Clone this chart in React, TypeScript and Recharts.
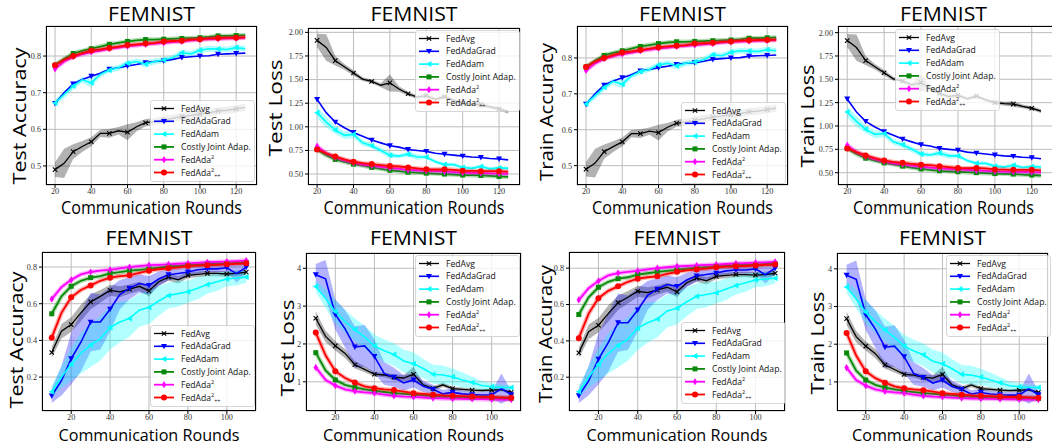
import React from "react";
import { ComposedChart, Line, Area, XAxis, YAxis, CartesianGrid } from "recharts";

// rounds on the x axis
const TOP_ROUNDS = [20, 25, 30, 35, 40, 45, 50, 55, 60, 65, 70, 75, 80, 85, 90, 95, 100, 105, 110, 115, 120, 125];
const BOTTOM_ROUNDS = [10, 15, 20, 25, 30, 35, 40, 45, 50, 55, 60, 65, 70, 75, 80, 85, 90, 95, 100, 105, 110];

const TOP_X_TICKS = [20, 40, 60, 80, 100, 120];
const BOTTOM_X_TICKS = [20, 40, 60, 80, 100];
const TOP_ACC_TICKS = [0.5, 0.6, 0.7, 0.8];
const TOP_LOSS_TICKS = [0.5, 0.75, 1, 1.25, 1.5, 1.75, 2];
const BOTTOM_ACC_TICKS = [0.2, 0.4, 0.6, 0.8];
const BOTTOM_LOSS_TICKS = [1, 2, 3, 4];

// top row, accuracy
const TOP_ACC_AVG = [0.49, 0.507, 0.539, 0.553, 0.566, 0.589, 0.589, 0.596, 0.592, 0.607, 0.618, 0.621, 0.626, 0.63, 0.635, 0.638, 0.642, 0.645, 0.65, 0.652, 0.656, 0.66];
const TOP_ACC_AVG_SD = [0.02, 0.04, 0.02, 0.015, 0.012, 0.01, 0.012, 0.01, 0.022, 0.012, 0.01, 0.01, 0.01, 0.01, 0.01, 0.01, 0.01, 0.01, 0.01, 0.01, 0.01, 0.01];
const TOP_ACC_GRAD = [0.671, 0.7, 0.724, 0.736, 0.745, 0.753, 0.764, 0.768, 0.773, 0.777, 0.782, 0.785, 0.787, 0.791, 0.796, 0.798, 0.8, 0.801, 0.805, 0.806, 0.807, 0.808];
const TOP_ACC_ADAM = [0.672, 0.695, 0.718, 0.735, 0.727, 0.75, 0.762, 0.768, 0.78, 0.785, 0.778, 0.785, 0.789, 0.795, 0.809, 0.806, 0.816, 0.82, 0.819, 0.818, 0.823, 0.82];
const TOP_ACC_ADAM_SD = [0.008, 0.01, 0.01, 0.008, 0.012, 0.008, 0.008, 0.008, 0.008, 0.008, 0.01, 0.008, 0.008, 0.008, 0.008, 0.008, 0.008, 0.008, 0.008, 0.008, 0.008, 0.008];
const TOP_ACC_COSTLY = [0.775, 0.792, 0.807, 0.814, 0.82, 0.826, 0.832, 0.836, 0.84, 0.843, 0.845, 0.845, 0.846, 0.847, 0.848, 0.849, 0.85, 0.852, 0.855, 0.855, 0.856, 0.857];
const TOP_ACC_ADA2 = [0.765, 0.785, 0.798, 0.805, 0.811, 0.815, 0.82, 0.823, 0.827, 0.829, 0.832, 0.834, 0.836, 0.838, 0.84, 0.843, 0.845, 0.846, 0.847, 0.848, 0.849, 0.85];
const TOP_ACC_ADA2PP = [0.775, 0.79, 0.8, 0.808, 0.815, 0.818, 0.822, 0.826, 0.83, 0.832, 0.834, 0.836, 0.84, 0.841, 0.842, 0.845, 0.846, 0.848, 0.849, 0.85, 0.85, 0.851];

// top row, loss
const TOP_LOSS_AVG = [1.915, 1.84, 1.7, 1.635, 1.57, 1.505, 1.48, 1.44, 1.465, 1.4, 1.35, 1.315, 1.33, 1.29, 1.32, 1.28, 1.25, 1.24, 1.235, 1.21, 1.19, 1.16];
const TOP_LOSS_AVG_SD = [0.07, 0.14, 0.05, 0.03, 0.03, 0.02, 0.02, 0.02, 0.09, 0.03, 0.02, 0.02, 0.02, 0.02, 0.02, 0.02, 0.02, 0.02, 0.03, 0.02, 0.02, 0.02];
const TOP_LOSS_GRAD = [1.29, 1.15, 1.05, 0.99, 0.94, 0.9, 0.86, 0.83, 0.8, 0.785, 0.76, 0.75, 0.74, 0.72, 0.71, 0.7, 0.69, 0.68, 0.675, 0.665, 0.66, 0.65];
const TOP_LOSS_ADAM = [1.15, 1.05, 0.965, 0.91, 0.92, 0.83, 0.8, 0.75, 0.7, 0.69, 0.71, 0.68, 0.68, 0.63, 0.6, 0.6, 0.57, 0.56, 0.58, 0.555, 0.565, 0.56];
const TOP_LOSS_ADAM_SD = [0.06, 0.06, 0.04, 0.04, 0.04, 0.03, 0.03, 0.03, 0.03, 0.02, 0.03, 0.03, 0.02, 0.02, 0.02, 0.02, 0.02, 0.02, 0.02, 0.02, 0.02, 0.02];
const TOP_LOSS_COSTLY = [0.76, 0.7, 0.655, 0.63, 0.605, 0.59, 0.57, 0.555, 0.54, 0.53, 0.52, 0.515, 0.51, 0.505, 0.5, 0.495, 0.49, 0.488, 0.485, 0.48, 0.475, 0.47];
const TOP_LOSS_ADA2 = [0.795, 0.72, 0.675, 0.645, 0.62, 0.6, 0.59, 0.575, 0.565, 0.555, 0.545, 0.54, 0.535, 0.53, 0.525, 0.52, 0.515, 0.512, 0.51, 0.508, 0.505, 0.503];
const TOP_LOSS_ADA2PP = [0.76, 0.72, 0.685, 0.655, 0.63, 0.615, 0.605, 0.595, 0.585, 0.58, 0.57, 0.56, 0.55, 0.548, 0.55, 0.545, 0.535, 0.533, 0.53, 0.53, 0.53, 0.525];

// bottom row, accuracy
const BOT_ACC_AVG = [0.334, 0.45, 0.486, 0.55, 0.61, 0.64, 0.673, 0.665, 0.68, 0.695, 0.67, 0.72, 0.745, 0.73, 0.755, 0.76, 0.765, 0.765, 0.762, 0.765, 0.772];
const BOT_ACC_AVG_SD = [0.03, 0.04, 0.04, 0.045, 0.04, 0.035, 0.03, 0.03, 0.025, 0.025, 0.03, 0.02, 0.02, 0.02, 0.015, 0.015, 0.015, 0.015, 0.015, 0.015, 0.015];
const BOT_ACC_GRAD = [0.098, 0.18, 0.3, 0.39, 0.5, 0.5, 0.57, 0.65, 0.685, 0.71, 0.7, 0.735, 0.758, 0.765, 0.773, 0.785, 0.79, 0.79, 0.796, 0.764, 0.8];
const BOT_ACC_GRAD_SD = [0.04, 0.08, 0.14, 0.16, 0.16, 0.15, 0.12, 0.08, 0.06, 0.05, 0.05, 0.04, 0.03, 0.03, 0.025, 0.02, 0.02, 0.02, 0.02, 0.05, 0.03];
const BOT_ACC_ADAM = [0.12, 0.2, 0.27, 0.33, 0.375, 0.41, 0.47, 0.5, 0.52, 0.565, 0.58, 0.615, 0.645, 0.655, 0.665, 0.685, 0.705, 0.72, 0.735, 0.74, 0.745];
const BOT_ACC_ADAM_SD = [0.03, 0.06, 0.09, 0.11, 0.12, 0.12, 0.12, 0.11, 0.1, 0.09, 0.09, 0.08, 0.07, 0.07, 0.06, 0.06, 0.05, 0.05, 0.04, 0.04, 0.03];
const BOT_ACC_COSTLY = [0.545, 0.64, 0.695, 0.725, 0.742, 0.75, 0.765, 0.772, 0.78, 0.785, 0.79, 0.797, 0.803, 0.806, 0.81, 0.813, 0.816, 0.818, 0.82, 0.823, 0.825];
const BOT_ACC_ADA2 = [0.625, 0.69, 0.73, 0.76, 0.773, 0.78, 0.785, 0.793, 0.8, 0.805, 0.81, 0.812, 0.815, 0.818, 0.82, 0.823, 0.826, 0.828, 0.83, 0.832, 0.835];
const BOT_ACC_ADA2PP = [0.415, 0.55, 0.635, 0.675, 0.7, 0.725, 0.742, 0.75, 0.755, 0.768, 0.78, 0.788, 0.793, 0.798, 0.805, 0.808, 0.81, 0.812, 0.815, 0.818, 0.82];

// bottom row, loss
const BOT_LOSS_AVG = [2.68, 2.2, 1.95, 1.75, 1.45, 1.33, 1.2, 1.18, 1.12, 1.1, 1.2, 0.92, 0.82, 0.92, 0.82, 0.8, 0.78, 0.77, 0.78, 0.79, 0.72];
const BOT_LOSS_AVG_SD = [0.18, 0.15, 0.12, 0.12, 0.1, 0.08, 0.06, 0.06, 0.08, 0.08, 0.2, 0.06, 0.06, 0.06, 0.05, 0.05, 0.04, 0.04, 0.04, 0.04, 0.04];
const BOT_LOSS_GRAD = [3.83, 3.72, 2.78, 2.4, 1.92, 1.95, 1.67, 1.22, 1.12, 0.97, 1.05, 0.88, 0.8, 0.68, 0.72, 0.68, 0.66, 0.65, 0.65, 0.82, 0.66];
const BOT_LOSS_GRAD_SD = [0.28, 0.5, 0.4, 0.5, 0.55, 0.55, 0.45, 0.3, 0.25, 0.2, 0.2, 0.15, 0.12, 0.1, 0.1, 0.08, 0.08, 0.08, 0.1, 0.4, 0.1];
const BOT_LOSS_ADAM = [3.52, 3.2, 2.85, 2.6, 2.38, 2.18, 1.95, 1.82, 1.72, 1.55, 1.48, 1.35, 1.2, 1.18, 1.13, 1.05, 0.98, 0.9, 0.87, 0.85, 0.85];
const BOT_LOSS_ADAM_SD = [0.15, 0.25, 0.3, 0.3, 0.3, 0.3, 0.3, 0.3, 0.3, 0.3, 0.3, 0.25, 0.25, 0.25, 0.22, 0.2, 0.15, 0.12, 0.1, 0.08, 0.06];
const BOT_LOSS_COSTLY = [1.77, 1.3, 1.05, 0.92, 0.85, 0.8, 0.76, 0.73, 0.7, 0.68, 0.66, 0.64, 0.62, 0.61, 0.6, 0.59, 0.58, 0.575, 0.57, 0.565, 0.56];
const BOT_LOSS_ADA2 = [1.38, 1.05, 0.9, 0.8, 0.75, 0.72, 0.7, 0.66, 0.63, 0.61, 0.6, 0.585, 0.57, 0.56, 0.555, 0.55, 0.545, 0.54, 0.535, 0.53, 0.53];
const BOT_LOSS_ADA2PP = [2.3, 1.7, 1.28, 1.1, 0.98, 0.88, 0.83, 0.8, 0.78, 0.74, 0.7, 0.68, 0.66, 0.64, 0.63, 0.62, 0.61, 0.6, 0.6, 0.59, 0.58];

const SERIES = [
  { key: "avg", name: "FedAvg", color: "#000000", marker: "x", width: 1.3 },
  { key: "grad", name: "FedAdaGrad", color: "#0000ff", marker: "v", width: 1.6 },
  { key: "adam", name: "FedAdam", color: "#00ffff", marker: "<", width: 1.6 },
  { key: "costly", name: "Costly Joint Adap.", color: "#0a8a0a", marker: "s", width: 1.8, halo: true },
  { key: "ada2", name: "FedAda2", color: "#ff00ff", marker: "d", width: 1.8, halo: true },
  { key: "ada2pp", name: "FedAda2++", color: "#ff0000", marker: "o", width: 1.8, halo: true },
];

const SANS = "'Open Sans', 'Noto Sans', sans-serif";
const SERIF = "'Liberation Serif', 'DejaVu Serif', serif";

function buildRows(rounds: number[], vals: Record<string, number[]>, sd: Record<string, number[]>) {
  return rounds.map((x, i) => {
    const row: any = { x };
    for (const k in vals) row[k] = vals[k][i];
    for (const k in sd) row[k + "Band"] = [vals[k][i] - sd[k][i], vals[k][i] + sd[k][i]];
    return row;
  });
}

const topAccRows = buildRows(
  TOP_ROUNDS,
  { avg: TOP_ACC_AVG, grad: TOP_ACC_GRAD, adam: TOP_ACC_ADAM, costly: TOP_ACC_COSTLY, ada2: TOP_ACC_ADA2, ada2pp: TOP_ACC_ADA2PP },
  { avg: TOP_ACC_AVG_SD, adam: TOP_ACC_ADAM_SD }
);
const topLossRows = buildRows(
  TOP_ROUNDS,
  { avg: TOP_LOSS_AVG, grad: TOP_LOSS_GRAD, adam: TOP_LOSS_ADAM, costly: TOP_LOSS_COSTLY, ada2: TOP_LOSS_ADA2, ada2pp: TOP_LOSS_ADA2PP },
  { avg: TOP_LOSS_AVG_SD, adam: TOP_LOSS_ADAM_SD }
);
const botAccRows = buildRows(
  BOTTOM_ROUNDS,
  { avg: BOT_ACC_AVG, grad: BOT_ACC_GRAD, adam: BOT_ACC_ADAM, costly: BOT_ACC_COSTLY, ada2: BOT_ACC_ADA2, ada2pp: BOT_ACC_ADA2PP },
  { avg: BOT_ACC_AVG_SD, grad: BOT_ACC_GRAD_SD, adam: BOT_ACC_ADAM_SD }
);
const botLossRows = buildRows(
  BOTTOM_ROUNDS,
  { avg: BOT_LOSS_AVG, grad: BOT_LOSS_GRAD, adam: BOT_LOSS_ADAM, costly: BOT_LOSS_COSTLY, ada2: BOT_LOSS_ADA2, ada2pp: BOT_LOSS_ADA2PP },
  { avg: BOT_LOSS_AVG_SD, grad: BOT_LOSS_GRAD_SD, adam: BOT_LOSS_ADAM_SD }
);

const fmt1 = (v: number) => v.toFixed(1);
const fmt2 = (v: number) => v.toFixed(2);
const fmt0 = (v: number) => String(v);

// frame = [left, top, right, bottom] of the plot box in page pixels
// yl = [baseline x, centre y, length] of the rotated y label
const PANELS = [
  { frame: [46, 26, 257, 185], rows: topAccRows, yLabel: "Test Accuracy", yDomain: [0.448, 0.882], yTicks: TOP_ACC_TICKS, fmt: fmt1, top: true, legend: [150, 100], yl: [25.5, 116, 137] },
  { frame: [308, 28, 520, 185], rows: topLossRows, yLabel: "Test Loss", yDomain: [0.384, 2.046], yTicks: TOP_LOSS_TICKS, fmt: fmt2, top: true, legend: [415, 30], yl: [282, 108, 97] },
  { frame: [577, 26, 788, 185], rows: topAccRows, yLabel: "Train Accuracy", yDomain: [0.446, 0.889], yTicks: TOP_ACC_TICKS, fmt: fmt1, top: true, legend: [681, 102], yl: [552.5, 112, 138] },
  { frame: [838, 26, 1053, 185], rows: topLossRows, yLabel: "Train Loss", yDomain: [0.368, 2.071], yTicks: TOP_LOSS_TICKS, fmt: fmt2, top: true, legend: [895, 29], yl: [814, 116, 103] },
  { frame: [42, 252, 256, 411], rows: botAccRows, yLabel: "Test Accuracy", yDomain: [0.015, 0.882], yTicks: BOTTOM_ACC_TICKS, fmt: fmt1, top: false, legend: [150, 325], yl: [23, 340, 137] },
  { frame: [306, 253, 521, 411], rows: botLossRows, yLabel: "Test Loss", yDomain: [0.228, 4.404], yTicks: BOTTOM_LOSS_TICKS, fmt: fmt0, top: false, legend: [415, 255], yl: [293.5, 348, 97] },
  { frame: [569, 252, 785, 411], rows: botAccRows, yLabel: "Train Accuracy", yDomain: [0.014, 0.889], yTicks: BOTTOM_ACC_TICKS, fmt: fmt1, top: false, legend: [681, 322], yl: [552, 334, 138] },
  { frame: [837, 253, 1048, 411], rows: botLossRows, yLabel: "Train Loss", yDomain: [0.228, 4.42], yTicks: BOTTOM_LOSS_TICKS, fmt: fmt0, top: false, legend: [946, 255], yl: [824, 343, 103] },
];

function markerShape(kind: string, cx: number, cy: number, color: string, key?: string) {
  switch (kind) {
    case "x":
      return <path key={key} d={`M${cx - 2.2},${cy - 2.2}L${cx + 2.2},${cy + 2.2}M${cx - 2.2},${cy + 2.2}L${cx + 2.2},${cy - 2.2}`} stroke={color} strokeWidth={1.1} fill="none" />;
    case "v":
      return <polygon key={key} points={`${cx - 3},${cy - 2.4} ${cx + 3},${cy - 2.4} ${cx},${cy + 3}`} fill={color} />;
    case "<":
      return <polygon key={key} points={`${cx + 2.4},${cy - 3} ${cx + 2.4},${cy + 3} ${cx - 3},${cy}`} fill={color} />;
    case "s":
      return <rect key={key} x={cx - 2.5} y={cy - 2.5} width={5} height={5} fill={color} />;
    case "d":
      return <polygon key={key} points={`${cx},${cy - 3.6} ${cx + 2.2},${cy} ${cx},${cy + 3.6} ${cx - 2.2},${cy}`} fill={color} />;
    default:
      return <circle key={key} cx={cx} cy={cy} r={3} fill={color} />;
  }
}

function Panel({ p }: { p: any }) {
  const [L, T, R, B] = p.frame;
  const padTop = 6;
  const padRight = 6;
  const yW = 40;
  const xH = 22;
  const width = R - L + yW + padRight;
  const height = B - T + padTop + xH;
  const xDomain = p.top ? [15, 131.5] : [5, 115];
  const xTicks = p.top ? TOP_X_TICKS : BOTTOM_X_TICKS;
  const tickStyle = { fontSize: 8.2, fill: "#333", fontFamily: SERIF };

  const children: any[] = [];
  SERIES.forEach((s) => {
    if (p.rows[0][s.key + "Band"]) {
      children.push(
        <Area key={s.key + "-band"} type="linear" dataKey={s.key + "Band"} stroke="none" fill={s.color} fillOpacity={0.3} isAnimationActive={false} activeDot={false} />
      );
    }
    if (s.halo) {
      children.push(
        <Line key={s.key + "-halo"} type="linear" dataKey={s.key} stroke={s.color} strokeOpacity={0.3} strokeWidth={4.5} dot={false} activeDot={false} isAnimationActive={false} />
      );
    }
    children.push(
      <Line
        key={s.key}
        type="linear"
        dataKey={s.key}
        stroke={s.color}
        strokeWidth={s.width}
        activeDot={false}
        isAnimationActive={false}
        dot={(d: any) => {
          const k = `${s.key}-m${d.index}`;
          if (d.payload.x % 10 !== 0) return <g key={k} />;
          return markerShape(s.marker, d.cx, d.cy, s.color, k);
        }}
      />
    );
  });

  return (
    <div style={{ position: "absolute", left: L - yW, top: T - padTop }}>
      <ComposedChart width={width} height={height} data={p.rows} margin={{ top: padTop, right: padRight, left: 0, bottom: 0 }}>
        <CartesianGrid stroke="#bdbdbd" strokeWidth={1} />
        <XAxis
          dataKey="x"
          type="number"
          domain={xDomain}
          ticks={xTicks}
          allowDataOverflow
          axisLine={false}
          tickSize={3}
          tickMargin={0}
          tickLine={{ stroke: "#000" }}
          tick={tickStyle}
          height={xH}
        />
        <YAxis
          type="number"
          domain={p.yDomain}
          ticks={p.yTicks}
          allowDataOverflow
          axisLine={false}
          tickSize={3}
          tickMargin={2}
          tickLine={{ stroke: "#000" }}
          tick={tickStyle}
          tickFormatter={p.fmt}
          width={yW}
        />
        {children}
      </ComposedChart>
    </div>
  );
}

function LegendBox({ x, y }: { x: number; y: number }) {
  const rowGap = 12.8;
  return (
    <g>
      <rect x={x + 0.5} y={y + 0.5} width={104} height={81} rx={2.5} fill="#ffffff" fillOpacity={0.8} stroke="#cccccc" strokeWidth={0.8} />
      {SERIES.map((s, i) => {
        const cy = y + 8.5 + i * rowGap;
        let label: any = s.name;
        if (s.key === "ada2") {
          label = [
            <tspan key="a">FedAda</tspan>,
            <tspan key="b" dy={-3.5} fontSize={5.5}>2</tspan>,
          ];
        } else if (s.key === "ada2pp") {
          label = [
            <tspan key="a">FedAda</tspan>,
            <tspan key="b" dy={-3.5} fontSize={5.5}>2</tspan>,
            <tspan key="c" dy={5.5} fontSize={5.5}>++</tspan>,
          ];
        }
        return (
          <g key={s.key}>
            <line x1={x + 4} x2={x + 24} y1={cy} y2={cy} stroke={s.color} strokeWidth={s.width} />
            {markerShape(s.marker, x + 14, cy, s.color)}
            <text x={x + 31} y={cy + 3} fontSize={8.6} fontFamily={SANS} fontWeight={400} fill="#111">
              {label}
            </text>
          </g>
        );
      })}
    </g>
  );
}

export default function App() {
  return (
    <div style={{ position: "absolute", left: 0, top: 0, width: 1052, height: 444, overflow: "hidden", background: "#fff" }}>
      {PANELS.map((p, i) => (
        <Panel key={i} p={p} />
      ))}
      <svg width={1052} height={444} style={{ position: "absolute", left: 0, top: 0, pointerEvents: "none" }}>
        {PANELS.map((p, i) => {
          const [L, T, R, B] = p.frame;
          const cx = p.top ? (L + Math.min(R, 1049)) / 2 : (L + R) / 2;
          return (
            <g key={i}>
              <rect x={L + 0.5} y={T + 0.5} width={R - L - 1} height={B - T - 1} fill="none" stroke="#000" strokeWidth={1} />
              <text x={cx} y={p.top ? 21 : 245} textAnchor="middle" fontSize={20.5} fontFamily={SANS} fontWeight={400} textLength={87} lengthAdjust="spacingAndGlyphs" fill="#000">
                FEMNIST
              </text>
              <text x={cx} y={p.top ? 213.5 : 440.5} textAnchor="middle" fontSize={p.top ? 17.5 : 17} fontFamily={SANS} fontWeight={400} textLength={181} lengthAdjust="spacingAndGlyphs" fill="#000">
                Communication Rounds
              </text>
              <text
                transform={`translate(${p.yl[0]},${p.yl[1]}) rotate(-90)`}
                textAnchor="middle"
                fontSize={18}
                fontFamily={SANS}
                fontWeight={400}
                textLength={p.yl[2]}
                lengthAdjust="spacingAndGlyphs"
                fill="#000"
              >
                {p.yLabel}
              </text>
              <LegendBox x={p.legend[0]} y={p.legend[1]} />
            </g>
          );
        })}
      </svg>
    </div>
  );
}
